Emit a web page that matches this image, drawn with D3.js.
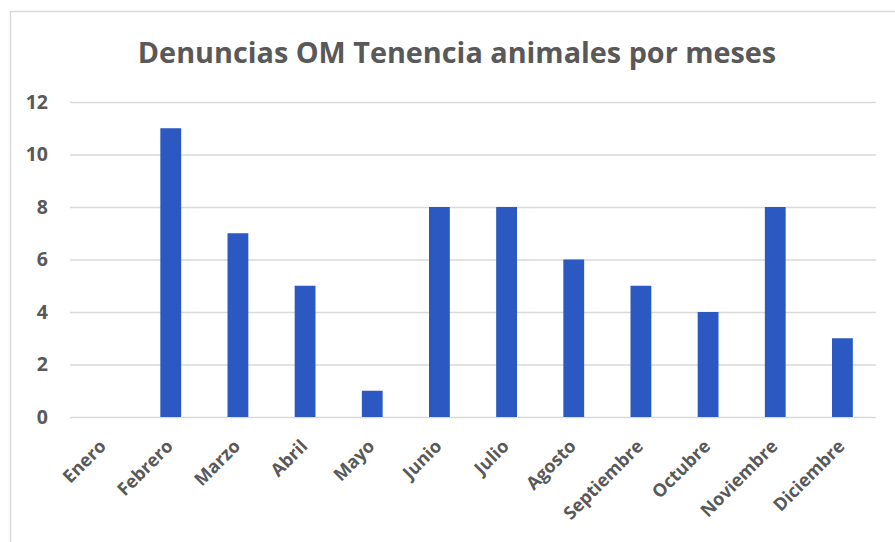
<!DOCTYPE html>
<html>
<head>
<meta charset="utf-8">
<script src="https://cdn.jsdelivr.net/npm/d3@7"></script>
<style>
    body { margin: 0; background: #fff; }
    svg { display: block; }
</style>
</head>
<body>
<div id="chart"></div>
<script>
const title = `Denuncias OM Tenencia animales por meses`
const months = [`Enero`, `Febrero`, `Marzo`, `Abril`, `Mayo`, `Junio`, `Julio`, `Agosto`, `Septiembre`, `Octubre`, `Noviembre`, `Diciembre`]
const denuncias = [0, 11, 7, 5, 1, 8, 8, 6, 5, 4, 8, 3]
const yTicks = [0, 2, 4, 6, 8, 10, 12]

const width = 895,
    height = 542,
    margin = { top: 102, right: 19, bottom: 125, left: 70 },
    font = `"Open Sans", Lato, sans-serif`,
    textColor = `#595959`

const svg = d3.select(`#chart`).append(`svg`).attr(`width`, width).attr(`height`, height)

// chart frame (only top and left edges fall inside the picture)
svg.append(`path`)
    .attr(`d`, `M10.5,${height} V11.5 H${width}`)
    .attr(`fill`, `none`).attr(`stroke`, `#d9d9d9`).attr(`stroke-width`, 1.5)

const x = d3.scaleBand().domain(months).range([margin.left, width - margin.right]).paddingInner(0.69).paddingOuter(0.345)
const y = d3.scaleLinear().domain([0, 12]).range([height - margin.bottom, margin.top])

svg.append(`text`)
    .attr(`x`, 457).attr(`y`, 63)
    .attr(`text-anchor`, `middle`)
    .attr(`font-family`, font).attr(`font-weight`, `bold`).attr(`font-size`, 28.8)
    .attr(`fill`, textColor)
    .text(title)

// gridlines + y labels
const yAxis = svg.append(`g`)
    .attr(`transform`, `translate(${margin.left},0)`)
    .call(d3.axisLeft(y).tickValues(yTicks).tickSize(-(width - margin.left - margin.right)).tickPadding(22))
yAxis.select(`.domain`).remove()
yAxis.selectAll(`.tick line`).attr(`stroke`, `#d9d9d9`).attr(`stroke-width`, 1.3)
yAxis.selectAll(`.tick text`)
    .attr(`font-family`, font).attr(`font-weight`, `bold`).attr(`font-size`, 19.5)
    .attr(`fill`, textColor)

svg.selectAll(`rect.bar`)
    .data(denuncias)
    .join(`rect`)
    .attr(`class`, `bar`)
    .attr(`x`, (d, i) => x(months[i]))
    .attr(`y`, d => y(d))
    .attr(`width`, x.bandwidth())
    .attr(`height`, d => y(0) - y(d))
    .attr(`fill`, `#2b58c1`)

// x labels rotated
const xAxis = svg.append(`g`)
    .attr(`transform`, `translate(0,${y(0)})`)
    .call(d3.axisBottom(x).tickSize(0).tickPadding(0))
xAxis.select(`.domain`).remove()
xAxis.selectAll(`.tick text`)
    .attr(`font-family`, font).attr(`font-weight`, `bold`).attr(`font-size`, 18)
    .attr(`fill`, textColor)
    .attr(`text-anchor`, `end`)
    .attr(`dy`, `0.35em`)
    .attr(`transform`, `translate(-1,26) rotate(-45)`)
</script>
</body>
</html>
